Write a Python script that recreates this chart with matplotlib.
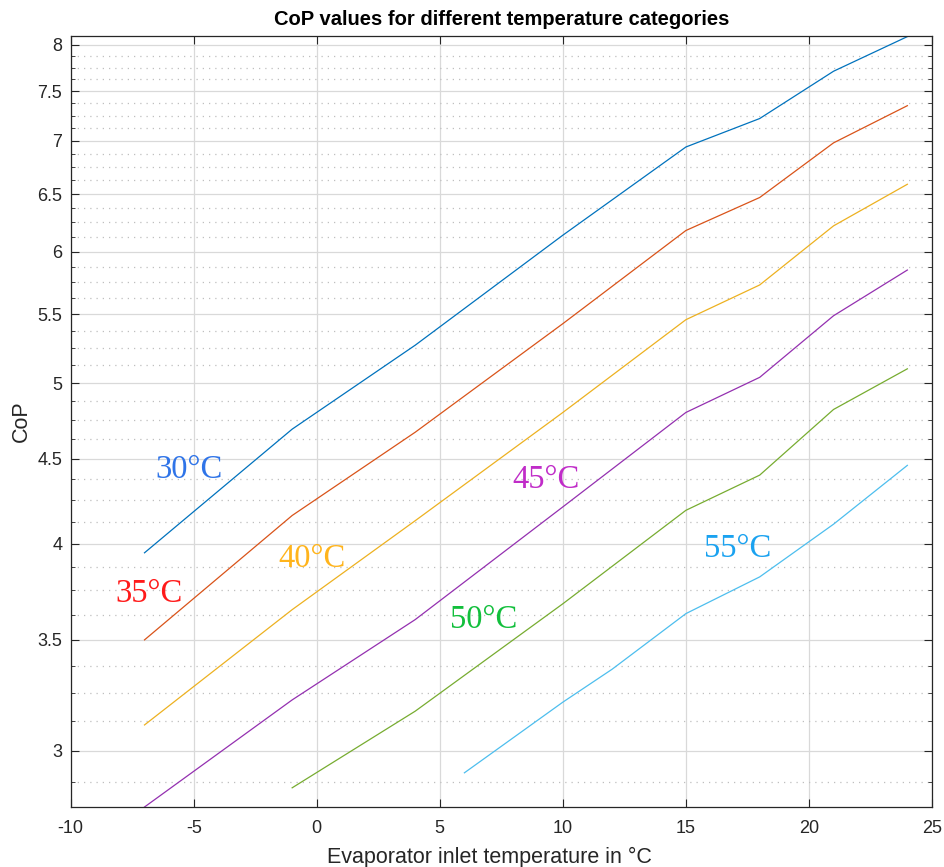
import numpy as np
import matplotlib
matplotlib.use("Agg")
import matplotlib.pyplot as plt
from matplotlib.ticker import FixedLocator, NullFormatter

plt.rcParams["axes.unicode_minus"] = False

# CoP curves, one per condenser outlet temperature
x_30 = [-7, -1, 4, 10, 15, 18, 21, 24]
cop_30 = [3.95, 4.69, 5.27, 6.14, 6.94, 7.22, 7.71, 8.09]

x_35 = [-7, -1, 4, 10, 15, 18, 21, 24]
cop_35 = [3.50, 4.16, 4.67, 5.43, 6.18, 6.47, 6.98, 7.35]

x_40 = [-7, -1, 4, 10, 15, 18, 21, 24]
cop_40 = [3.11, 3.65, 4.13, 4.80, 5.46, 5.73, 6.22, 6.59]

x_45 = [-7, -1, 4, 10, 15, 18, 21, 24]
cop_45 = [2.775, 3.22, 3.60, 4.21, 4.80, 5.04, 5.49, 5.85]

x_50 = [-1, 4, 10, 15, 18, 21, 24]
cop_50 = [2.85, 3.17, 3.68, 4.19, 4.40, 4.82, 5.10]

x_55 = [6, 10, 12, 15, 18, 21, 24]
cop_55 = [2.91, 3.21, 3.36, 3.63, 3.82, 4.11, 4.46]

labels = ["30°C", "35°C", "40°C", "45°C", "50°C", "55°C"]
label_x = [-5.2, -6.8, -0.2, 9.3, 6.8, 17.1]
label_y = [4.43, 3.73, 3.92, 4.37, 3.60, 3.97]

xs = [x_30, x_35, x_40, x_45, x_50, x_55]
ys = [cop_30, cop_35, cop_40, cop_45, cop_50, cop_55]

line_colors = ["#0072BD", "#D95319", "#EDB120", "#9430B0", "#77AC30", "#4DBEEE"]
text_colors = ["#2F74E8", "#FF1A1A", "#FFB41C", "#C02CC8", "#12BF3C", "#1AA2F0"]

major_y = [3, 3.5, 4, 4.5, 5, 5.5, 6, 6.5, 7, 7.5, 8]
minor_y = [v for v in np.arange(2.875, 8.1, 0.125) if round(v * 2) / 2 != v]

fig = plt.figure(figsize=(9.45, 8.67), dpi=100)
ax = fig.add_axes([0.0748, 0.0692, 0.9114, 0.8896])
ax.set_yscale("log")

for x, y, c in zip(xs, ys, line_colors):
    ax.plot(x, y, color=c, lw=0.9)

for t, tx, ty, c in zip(labels, label_x, label_y, text_colors):
    ax.text(tx, ty, t, color=c, fontsize=23.5, family="Liberation Serif",
            ha="center", va="center")

ax.set_xlim(-10, 25)
ax.set_ylim(2.775, 8.1)
ax.set_xticks(range(-10, 26, 5))
ax.yaxis.set_major_locator(FixedLocator(major_y))
ax.yaxis.set_minor_locator(FixedLocator(minor_y))
ax.yaxis.set_minor_formatter(NullFormatter())
ax.set_yticklabels([f"{v:g}" for v in major_y])

ax.grid(True, which="major", color="#d9d9d9", lw=0.9)
ax.grid(True, which="minor", axis="y", color="#bfbfbf", lw=0.9, ls=(0, (1, 4)))
ax.set_axisbelow(True)

ax.tick_params(which="both", direction="in", top=True, right=True,
               colors="#262626", labelsize=13)
ax.tick_params(which="major", length=6)
ax.tick_params(which="minor", length=3)
ax.tick_params(axis="x", pad=9)
ax.tick_params(axis="y", pad=6)
for s in ax.spines.values():
    s.set_color("#262626")
    s.set_linewidth(0.9)

font = "Liberation Sans"
for lab in ax.get_xticklabels() + ax.get_yticklabels():
    lab.set_family(font)
ax.set_xlabel("Evaporator inlet temperature in °C", fontsize=15.5,
              family=font, color="#262626")
ax.xaxis.set_label_coords(0.486, -0.052)
ax.set_ylabel("CoP", fontsize=15.5, family=font, color="#262626", labelpad=4)
ax.set_title("CoP values for different temperature categories", fontsize=14.5,
             fontweight="bold", family=font, color="#000000", pad=8)

fig.savefig("out.png", dpi=100)
